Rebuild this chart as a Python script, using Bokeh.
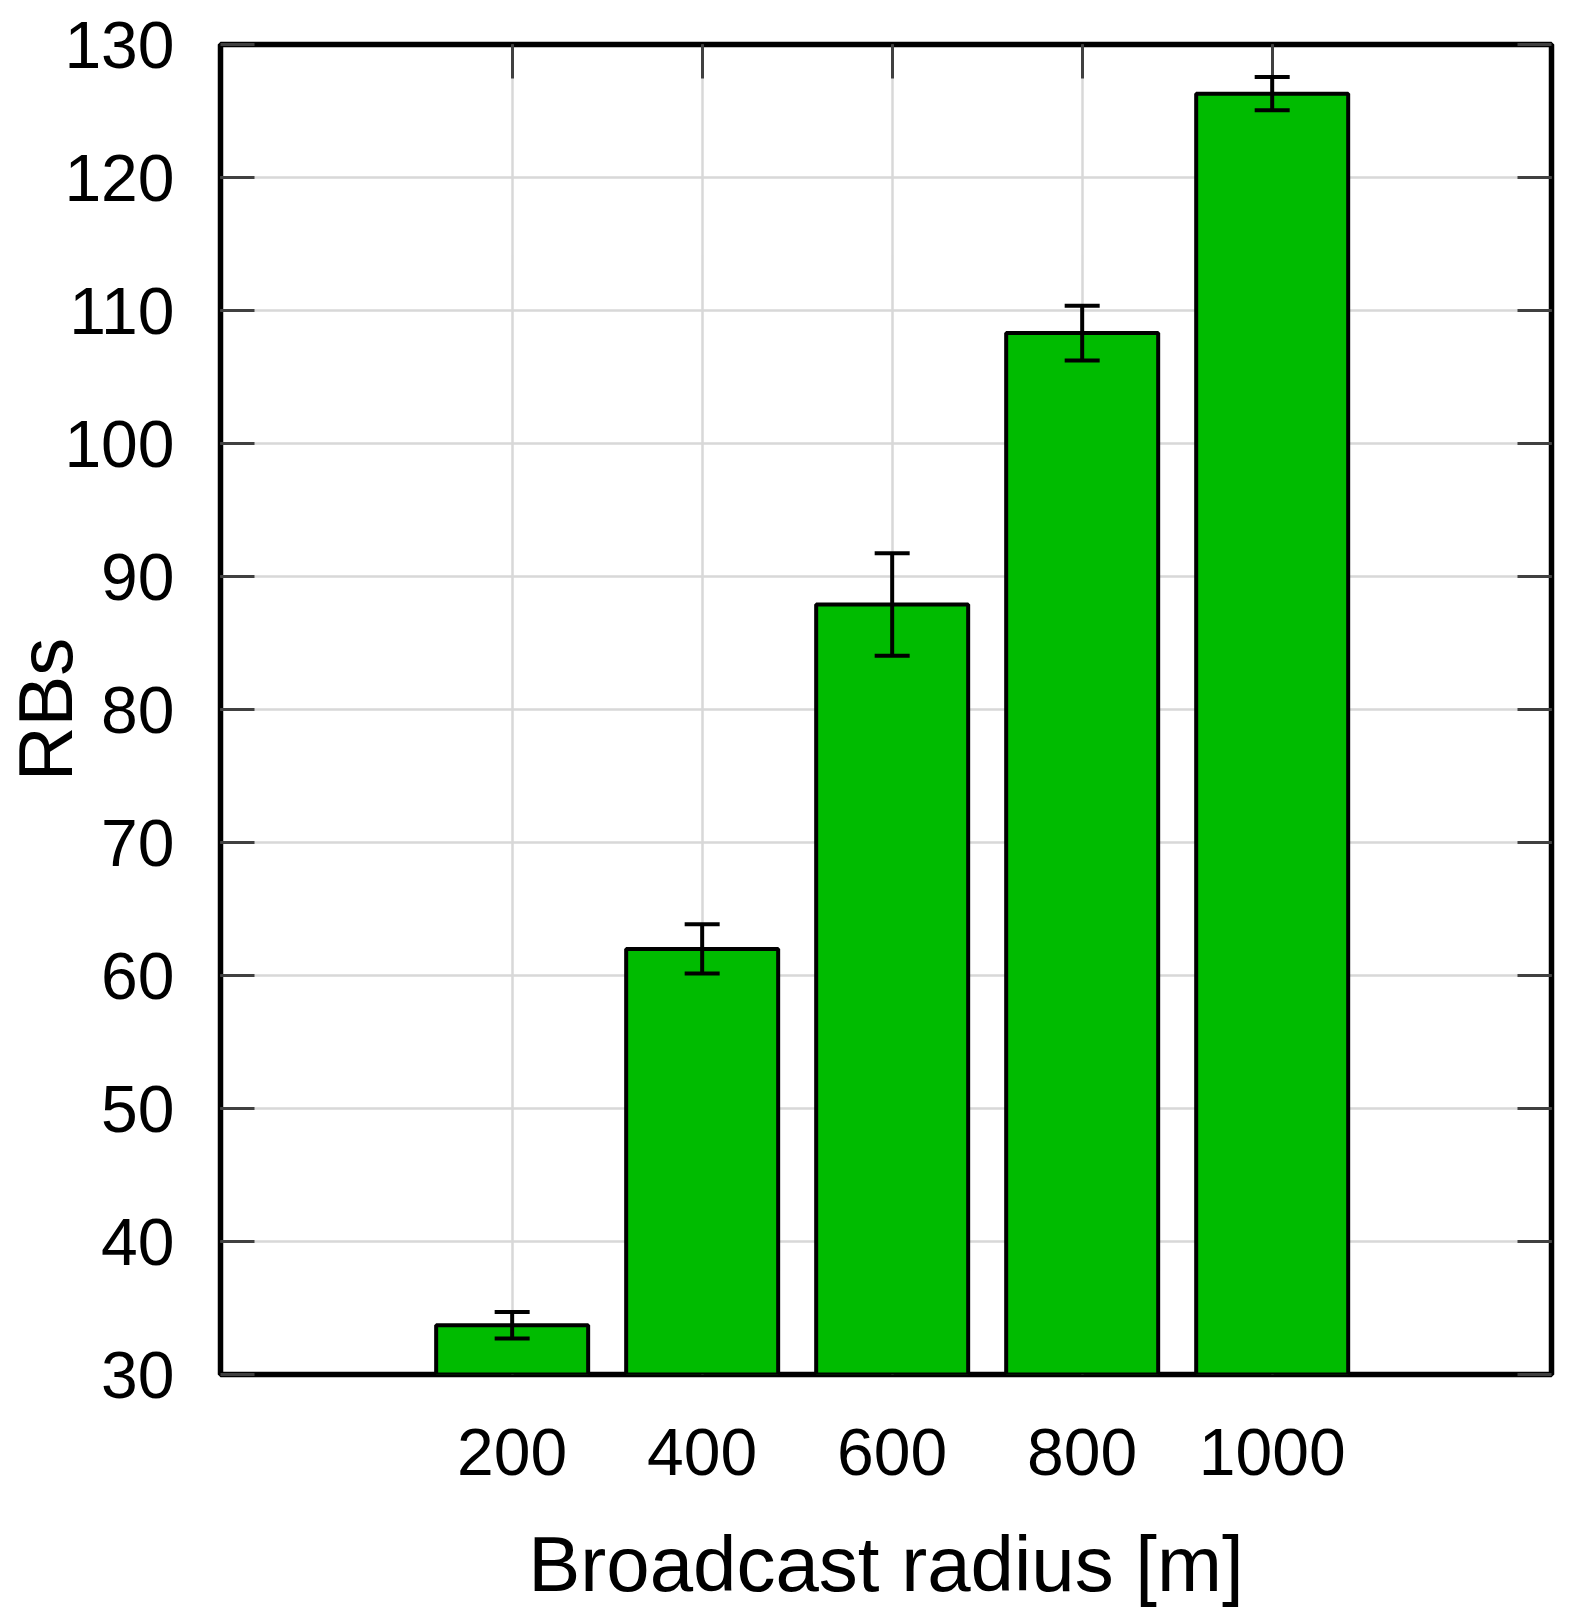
from bokeh.plotting import figure
from bokeh.models import (ColumnDataSource, FixedTicker, LinearAxis, Range1d,
                          Whisker, TeeHead)
from bokeh.embed import file_html
from bokeh.resources import INLINE

# ---- data ----
radius_labels = ["200", "400", "600", "800", "1000"]
rbs_mean = [33.7, 62.0, 87.9, 108.3, 126.3]
rbs_err = [1.0, 1.85, 3.85, 2.05, 1.25]
y_ticks = [30, 40, 50, 60, 70, 80, 90, 100, 110, 120, 130]

xpos = list(range(1, len(radius_labels) + 1))
src = ColumnDataSource(dict(
    x=xpos,
    top=rbs_mean,
    upper=[m + e for m, e in zip(rbs_mean, rbs_err)],
    lower=[m - e for m, e in zip(rbs_mean, rbs_err)],
))

FONT = "Liberation Sans"

p = figure(width=1555, height=1612, output_backend="svg", toolbar_location=None,
           x_range=Range1d(-0.535, 6.47), y_range=Range1d(30, 130),
           min_border_left=212, min_border_right=4, min_border_top=44,
           min_border_bottom=238)

p.outline_line_color = "black"
p.outline_line_width = 5.5
p.background_fill_color = "white"
p.border_fill_color = "white"

p.vbar(x="x", top="top", bottom=30, width=0.8, source=src,
       fill_color="#00bb00", line_color="black", line_width=4)

w = Whisker(source=src, base="x", upper="upper", lower="lower",
            line_color="black", line_width=4, level="annotation",
            upper_head=TeeHead(size=35, line_color="black", line_width=4),
            lower_head=TeeHead(size=35, line_color="black", line_width=4))
p.add_layout(w)

xt = FixedTicker(ticks=xpos)
yt = FixedTicker(ticks=y_ticks)
overrides = {x: lab for x, lab in zip(xpos, radius_labels)}

# bottom axis
ax = p.xaxis[0]
ax.ticker = xt
ax.major_label_overrides = overrides
ax.axis_line_color = None
ax.major_tick_line_color = None
ax.minor_tick_line_color = None
ax.major_label_text_font = FONT
ax.major_label_text_font_size = "66px"
ax.major_label_text_color = "black"
ax.major_label_standoff = 48
ax.axis_label = "Broadcast radius [m]"
ax.axis_label_text_font = FONT
ax.axis_label_text_font_size = "78px"
ax.axis_label_text_font_style = "normal"
ax.axis_label_text_color = "black"
ax.axis_label_standoff = 42

# left axis
ay = p.yaxis[0]
ay.ticker = yt
ay.axis_line_color = None
ay.major_tick_in = 34
ay.major_tick_out = 0
ay.major_tick_line_color = "#404040"
ay.major_tick_line_width = 3
ay.minor_tick_line_color = None
ay.major_label_text_font = FONT
ay.major_label_text_font_size = "66px"
ay.major_label_text_color = "black"
ay.major_label_standoff = 46
ay.axis_label = "RBs"
ay.axis_label_text_font = FONT
ay.axis_label_text_font_size = "76px"
ay.axis_label_text_font_style = "normal"
ay.axis_label_text_color = "black"
ay.axis_label_standoff = -27

# top mirror ticks
top = LinearAxis(ticker=xt, axis_line_color=None, major_tick_in=34,
                 major_tick_out=0, major_tick_line_color="#404040",
                 major_tick_line_width=3, minor_tick_line_color=None,
                 major_label_text_font_size="0px")
p.add_layout(top, "above")

# right mirror ticks
right = LinearAxis(ticker=yt, axis_line_color=None, major_tick_in=34,
                   major_tick_out=0, major_tick_line_color="#404040",
                   major_tick_line_width=3, minor_tick_line_color=None,
                   major_label_text_font_size="0px")
p.add_layout(right, "right")

p.xgrid.ticker = xt
p.ygrid.ticker = yt
p.xgrid.grid_line_color = "#d8d8d8"
p.ygrid.grid_line_color = "#d8d8d8"
p.xgrid.grid_line_width = 2.5
p.ygrid.grid_line_width = 2.5

open("out.html", "w").write(file_html(p, INLINE))
